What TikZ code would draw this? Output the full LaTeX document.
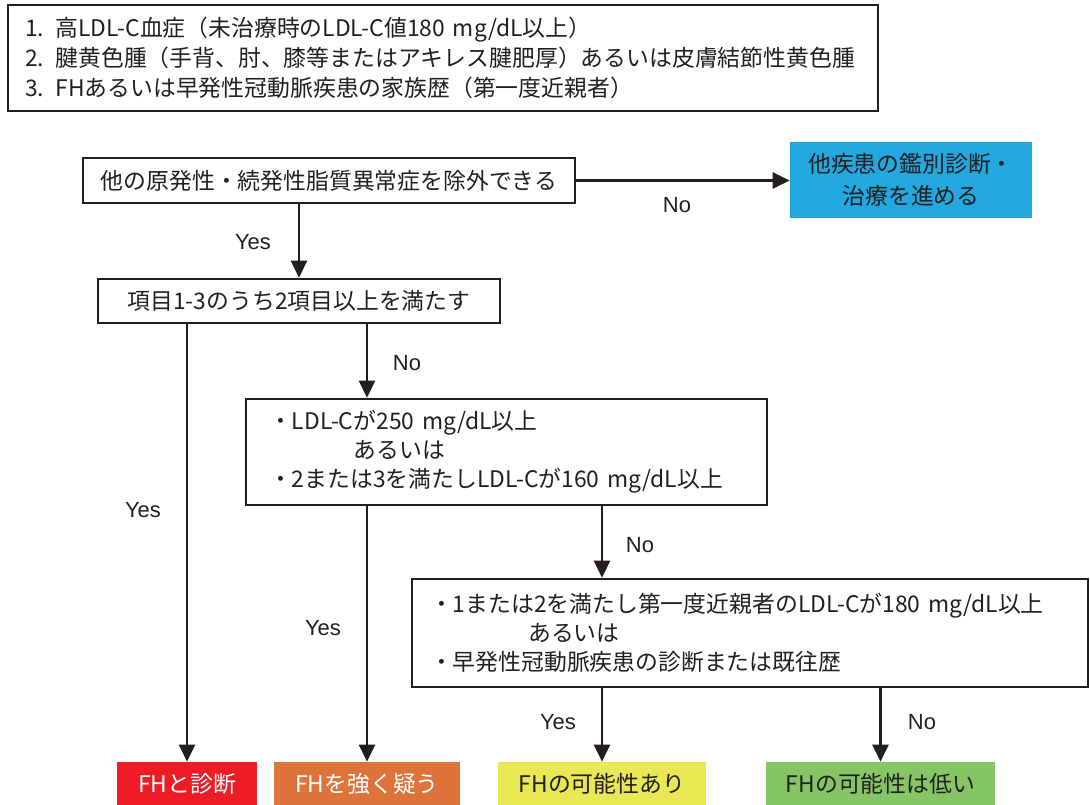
\documentclass[tikz,border=0pt]{standalone}
\usepackage{fontspec}
\setmainfont{Noto Sans CJK JP}
\newfontfamily\latinfont{Liberation Sans}
\usetikzlibrary{arrows.meta}

\definecolor{inkgray}{HTML}{231F20}
\definecolor{fhblue}{HTML}{22A7DF}
\definecolor{fhred}{HTML}{EE1C25}
\definecolor{fhorange}{HTML}{DF733C}
\definecolor{fhyellow}{HTML}{E8E854}
\definecolor{fhgreen}{HTML}{86C566}

\begin{document}
\begin{tikzpicture}[x=0.02cm,y=-0.02cm,color=inkgray,
	box/.style={draw,line width=1.5pt,inner sep=0pt,font=\fontsize{13}{16.5}\selectfont},
	result/.style={inner sep=0pt,minimum height=0.86cm,font=\fontsize{13}{14}\selectfont},
	answer/.style={font=\latinfont\fontsize{12.5}{14}\selectfont},
	flow/.style={-{Triangle[length=0.34cm,width=0.32cm]},line width=1.5pt}]
			\useasboundingbox (0,0) rectangle (1090,805);
			% criteria
			\draw (443,58) node [box,minimum width=17.4cm,minimum height=2.12cm,text width=16.72cm,align=left,font=\fontsize{13}{17}\selectfont] (criteria) {1.\hspace{0.5em}高LDL-C血症（未治療時のLDL-C値180 mg/dL以上）\\ 2.\hspace{0.5em}腱黄色腫（手背、肘、膝等またはアキレス腱肥厚）あるいは皮膚結節性黄色腫\\ 3.\hspace{0.5em}FHあるいは早発性冠動脈疾患の家族歴（第一度近親者）};
			% flow
			\draw (329,180.5) node [box,minimum width=9.84cm,minimum height=0.9cm] (exclude) {他の原発性・続発性脂質異常症を除外できる};
			\draw (911,180) node [fill=fhblue,inner sep=0pt,minimum width=4.84cm,minimum height=1.52cm,align=center,font=\fontsize{13}{18}\selectfont] (other) {他疾患の鑑別診断・\\治療を進める};
			\draw (299,301) node [box,minimum width=8.04cm,minimum height=0.88cm] (items) {項目1-3のうち2項目以上を満たす};
			\draw (506.5,452) node [box,minimum width=10.42cm,minimum height=2.12cm,text width=9.5cm,align=left] (ldl) {・LDL-Cが250 mg/dL以上\\ \hspace{3.7em}あるいは\\ ・2または3を満たしLDL-Cが160 mg/dL以上};
			\draw (750,633) node [box,minimum width=13.52cm,minimum height=2.16cm,text width=12.8cm,align=left] (family) {・1または2を満たし第一度近親者のLDL-Cが180 mg/dL以上\\ \hspace{4.3em}あるいは\\ ・早発性冠動脈疾患の診断または既往歴};
			% results
			\draw (187,783.5) node [result,fill=fhred,text=white,minimum width=2.8cm] (diag) {FHと診断};
			\draw (367,783.5) node [result,fill=fhorange,text=white,minimum width=3.72cm] (suspect) {FHを強く疑う};
			\draw (602,783.5) node [result,fill=fhyellow,minimum width=4.16cm] (possible) {FHの可能性あり};
			\draw (880.5,783.5) node [result,fill=fhgreen,minimum width=4.58cm] (unlikely) {FHの可能性は低い};
			% yes / no
			\draw (253,242) node [answer] (yesA) {Yes};
			\draw (677,205) node [answer] (noA) {No};
			\draw (143,510) node [answer] (yesB) {Yes};
			\draw (407,363) node [answer] (noB) {No};
			\draw (323,628) node [answer] (yesC) {Yes};
			\draw (640,545) node [answer] (noC) {No};
			\draw (558,722) node [answer] (yesD) {Yes};
			\draw (922,722) node [answer] (noD) {No};
			\draw[flow] (exclude.east) -- (exclude.east -| other.west);
			\draw[flow] (exclude.south -| items.north) -- (items.north);
			\draw[flow] (items.south -| diag.north) -- (diag.north);
			\draw[flow] (items.south -| suspect.north) -- (suspect.north |- ldl.north);
			\draw[flow] (ldl.south -| suspect.north) -- (suspect.north);
			\draw[flow] (ldl.south -| possible.north) -- (possible.north |- family.north);
			\draw[flow] (family.south -| possible.north) -- (possible.north);
			\draw[flow] (family.south -| unlikely.north) -- (unlikely.north);
		\end{tikzpicture}
\end{document}
